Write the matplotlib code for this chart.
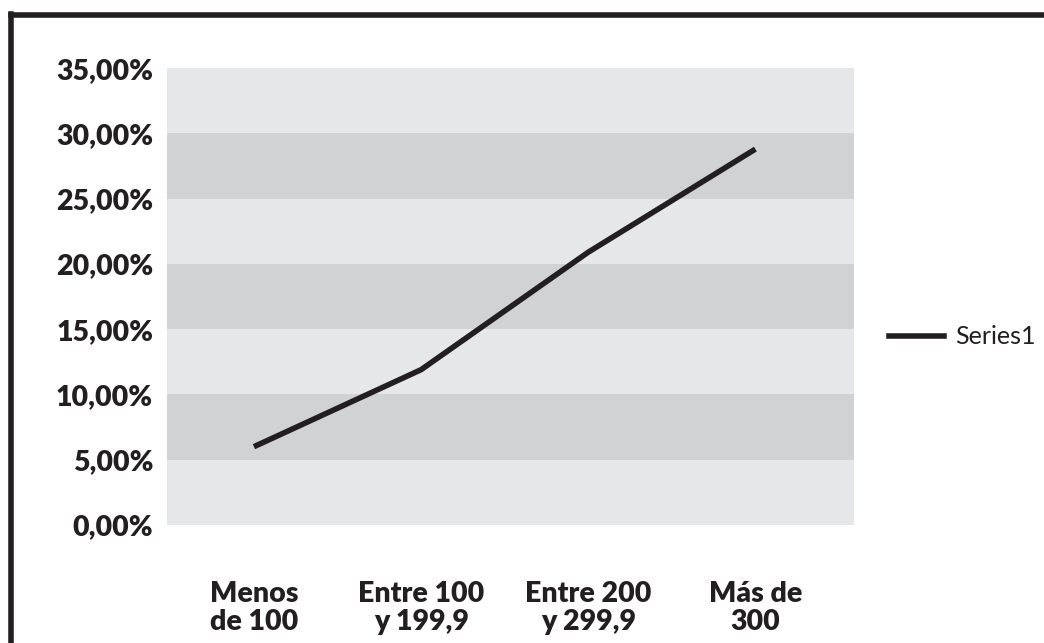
import matplotlib.pyplot as plt
from matplotlib.lines import Line2D

# datos
categorias = ['Menos\nde 100', 'Entre 100\ny 199,9', 'Entre 200\ny 299,9', 'Más de\n300']
valores = [6.0, 11.9, 20.9, 28.8]
ticks_y = [0, 5, 10, 15, 20, 25, 30, 35]

negro = '#231f20'
gris_claro = '#e6e7e8'
gris_oscuro = '#d1d2d4'

fig = plt.figure(figsize=(10.44, 6.43), dpi=100)
ax = fig.add_axes([0.16, 0.1835, 0.658, 0.7105])

# bandas alternas
for i in range(len(ticks_y) - 1):
    color = gris_claro if i % 2 == 0 else gris_oscuro
    ax.axhspan(ticks_y[i], ticks_y[i + 1], color=color, lw=0, zorder=0)

x = list(range(len(categorias)))
ax.plot(x, valores, color=negro, lw=4, solid_capstyle='butt', label='Series1', zorder=3)

ax.set_ylim(0, 35)
ax.set_xlim(-0.52, 3.59)
ax.set_yticks(ticks_y)
ax.set_yticklabels([f'{v:.2f}%'.replace('.', ',') for v in ticks_y])
ax.set_xticks(x)
ax.set_xticklabels(categorias, linespacing=1.1)

for lab in ax.get_yticklabels() + ax.get_xticklabels():
    lab.set_fontfamily('Lato')
    lab.set_fontweight('heavy')
    lab.set_fontsize(20.5)
    lab.set_color(negro)

ax.tick_params(axis='y', length=0, pad=10)
ax.tick_params(axis='x', length=0, pad=40)
for s in ax.spines.values():
    s.set_visible(False)

leg = fig.legend(handles=[Line2D([], [], color=negro, lw=4)], labels=['Series1'],
                 loc='center left', bbox_to_anchor=(0.83, 0.476), frameon=False,
                 handlelength=2.2, handletextpad=0.45,
                 prop={'family': 'Lato', 'size': 18})
for t in leg.get_texts():
    t.set_color(negro)

# marco superior e izquierdo
fig.add_artist(Line2D([0.0105, 1.0], [0.976, 0.976], color=negro, lw=4, transform=fig.transFigure))
fig.add_artist(Line2D([0.0105, 0.0105], [0.0, 0.979], color=negro, lw=4, transform=fig.transFigure))

fig.savefig('out.png', dpi=100)
